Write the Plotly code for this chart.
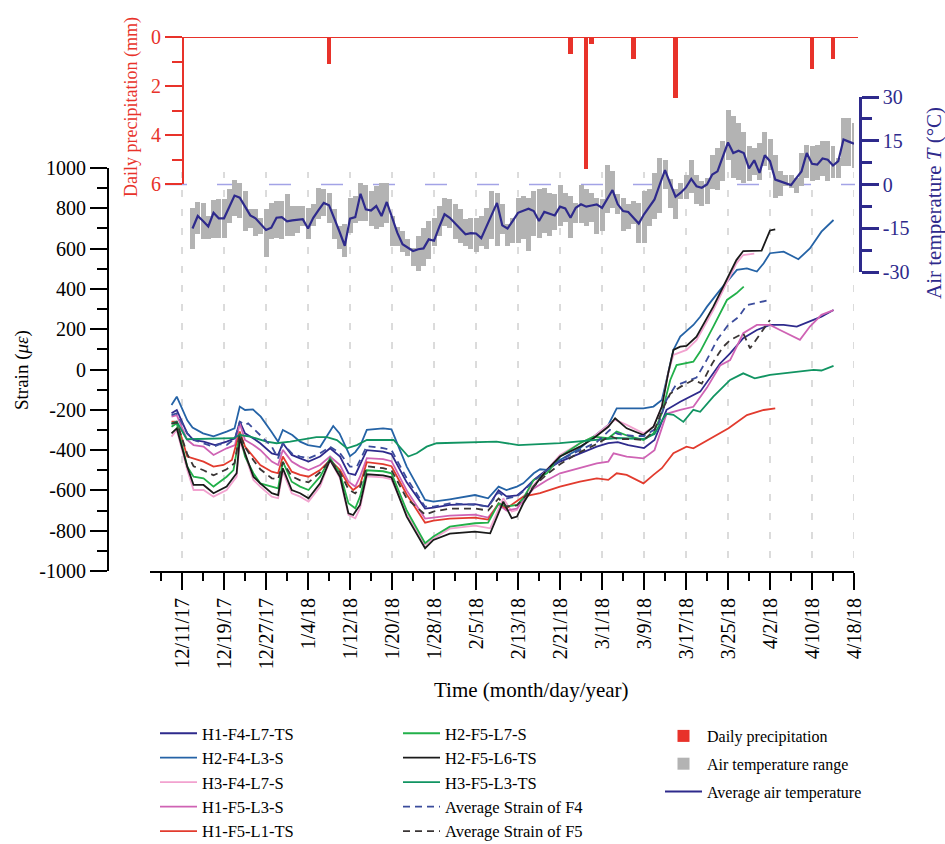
import plotly.graph_objects as go
import pandas as pd

W, H = 945, 844
BASE = pd.Timestamp('2017-12-11')
DAY_MS = 86400000


def fx(px):
    return px / W


def fy(py):
    return 1 - py / H


def dates(days):
    return [BASE + pd.Timedelta(days=float(d)) for d in days]


# ---------------- strain series (day offset from 12/11/2017, strain in micro-strain) -------------
h1_f4_l7_ts_day = [-2, -1, 1, 2.2, 4.1, 6.3, 8.5, 10.1, 11, 12, 13.6, 14.9, 17.1, 18.3, 19.2, 20.9, 22.5, 24.1, 26.3, 28.2,
                   30.1, 31.7, 33, 33.9, 35.2, 38.3, 39.9, 42.8, 46.3, 47.9, 51, 55.8, 58.3, 60.3, 61.8, 63.8, 65, 67, 69.5, 72,
                   75.8, 79, 81.2, 83, 85, 88, 90, 91.4, 92.3, 94.9, 98.7, 102.5, 104.4, 106.9, 109.5, 112, 114.6, 117.1, 119.6, 121.8,
                   124.1]
h1_f4_l7_ts = [-217, -201, -317, -350, -358, -375, -358, -342, -259, -317, -342, -366, -416, -424, -366, -424, -441, -457, -432, -391,
               -432, -515, -523, -474, -400, -408, -420, -560, -690, -685, -672, -668, -680, -600, -630, -625, -600, -548, -498, -457,
               -416, -383, -365, -360, -375, -390, -350, -260, -200, -160, -110, 30, 80, 155, 196, 221, 221, 213, 237, 262,
               295]

h2_f4_l3_s_day = [-2, -1, 1, 2, 4, 6, 8.5, 10, 11, 12, 13.5, 15, 17, 18.3, 19.2, 21, 22.5, 24, 26.3, 27.5,
                  28.8, 30, 31.4, 32, 33, 34, 35.2, 38.3, 39.9, 42.8, 46.3, 47.9, 51, 55.8, 58.3, 60.3, 61.8, 63.8, 65, 67,
                  68.2, 69.5, 72, 75.8, 78.4, 81.2, 82.8, 87.9, 89.8, 91.4, 92.3, 93.6, 94.9, 97.4, 98.7, 100, 102.5, 104.1, 105.7, 107.6,
                  109.5, 110.8, 112, 114.6, 116.5, 117.4, 119.6, 121.8, 124.1]
h2_f4_l3_s = [-176, -135, -252, -288, -317, -332, -308, -292, -184, -201, -198, -234, -308, -358, -300, -325, -358, -375, -385, -335,
              -280, -317, -391, -430, -410, -375, -300, -292, -297, -482, -647, -656, -644, -623, -639, -581, -598, -581, -565, -515,
              -495, -498, -449, -391, -333, -275, -193, -193, -184, -151, -52, 97, 163, 221, 262, 312, 395, 444, 494, 502,
              486, 527, 577, 585, 560, 547, 601, 684, 742]

h3_f4_l7_s_day = [-2, -1, 1, 2.2, 4.1, 6, 8.5, 10.4, 11, 12, 13.6, 14.9, 17.1, 18.3, 19.2, 20.9, 22.5, 24.1, 26.3, 28.2,
                  30.1, 31.7, 33, 33.9, 35.2, 38.3, 39.9, 42.8, 46.3, 47.9, 51, 55.8, 58.7, 61.2, 62.8, 63.8, 65, 67, 69.5, 72,
                  75.8, 78.4, 81.2, 82.5, 84.7, 87.9, 89.8, 91.4, 92.6, 93.6, 96.1, 98, 101.2, 104.1, 105.6, 106.9, 109]
h3_f4_l7_s = [-333, -300, -499, -598, -598, -631, -598, -532, -358, -424, -548, -581, -631, -639, -507, -614, -631, -656, -581, -449,
              -540, -722, -738, -689, -530, -535, -545, -720, -870, -840, -790, -775, -788, -639, -705, -697, -631, -573, -498, -424,
              -366, -333, -275, -250, -275, -317, -284, -184, -19, 72, 97, 146, 295, 444, 527, 568, 575]

h1_f5_l3_s_day = [-2, -1, 1, 2.2, 4.1, 6, 8.5, 10.1, 11, 12, 13.6, 14.9, 17.1, 18.3, 19.2, 20.9, 22.5, 24.1, 26.3, 28.2,
                  30.1, 31.7, 33, 33.9, 35.2, 38.3, 39.9, 42.8, 46.3, 47.9, 51, 55.8, 58.3, 60.3, 61.8, 63.8, 65, 67, 69.5, 72,
                  75.8, 79, 81.2, 82.2, 84.7, 87.9, 90, 91.4, 92.3, 94.9, 97.4, 100, 102.5, 104.4, 106.9, 109.5, 112, 113.9, 115.8, 117.7,
                  119.6, 121.8, 124.1]
h1_f5_l3_s = [-234, -226, -350, -375, -383, -424, -391, -375, -267, -350, -375, -399, -457, -474, -399, -457, -482, -499, -474, -432,
              -474, -557, -581, -532, -440, -445, -455, -600, -740, -735, -725, -720, -735, -670, -700, -690, -650, -590, -550, -515,
              -490, -466, -457, -416, -432, -441, -400, -290, -220, -200, -185, -90, 20, 47, 180, 221, 221, 196, 171, 147,
              213, 271, 295]

h1_f5_l1_ts_day = [-2, -1, 1, 2.2, 4.1, 6, 7.9, 9.5, 11, 12, 13.6, 14.9, 17.1, 18.3, 19.2, 20.9, 22.5, 24.1, 26.3, 28.2,
                   30.1, 31.7, 32.6, 33.9, 35.2, 38.3, 39.9, 42.8, 46.3, 47.9, 51, 55.8, 58.3, 60.3, 61.8, 65, 68.2, 72, 75.8, 79,
                   81.2, 82.8, 84.7, 87.9, 89.8, 91.4, 93.6, 96.1, 97.4, 101.2, 104.1, 107.6, 110.8, 113]
h1_f5_l1_ts = [-259, -259, -432, -441, -457, -482, -474, -449, -308, -383, -432, -474, -507, -515, -432, -507, -523, -532, -499, -449,
               -499, -573, -598, -573, -460, -470, -480, -620, -760, -750, -740, -735, -745, -664, -689, -631, -614, -581, -557, -540,
               -548, -515, -523, -565, -523, -490, -416, -383, -391, -333, -292, -226, -201, -193]

h2_f5_l7_s_day = [-2, -1, 1, 2.2, 4.1, 6, 8.5, 9.8, 11, 12, 13.6, 14.9, 17.1, 18.3, 19.2, 20.9, 22.5, 24.1, 26.3, 28.2,
                  30.1, 31.7, 33, 33.9, 35.2, 38.3, 39.9, 42.8, 46.3, 47.9, 51, 55.8, 58.3, 60.3, 61.8, 63.8, 65, 67, 69.5, 72,
                  75.8, 78.4, 81.2, 82.8, 85, 87.9, 89.8, 91.4, 93, 94.2, 97.4, 98.7, 101.2, 103.8, 105.6, 107]
h2_f5_l7_s = [-284, -267, -482, -532, -540, -581, -532, -499, -317, -432, -515, -565, -581, -590, -457, -557, -581, -598, -532, -441,
              -515, -664, -689, -631, -500, -505, -515, -700, -862, -829, -780, -763, -760, -664, -680, -672, -640, -548, -515, -432,
              -366, -333, -341, -308, -330, -350, -317, -217, -52, 22, 39, 89, 213, 345, 378, 411]

h2_f5_l6_ts_day = [-2, -1, 1, 2.2, 4.1, 6, 8.5, 10.4, 11, 12, 13.6, 14.9, 17.1, 18.3, 19.2, 20.9, 22.5, 24.1, 26.3, 28.2,
                   30.1, 31.7, 32.6, 33.9, 35.2, 38.3, 39.9, 42.8, 46.3, 47.9, 51, 55.8, 58.7, 61.2, 62.8, 63.8, 65, 67, 69.5, 72,
                   75.8, 78.4, 81.2, 82.5, 84.7, 87.9, 89.8, 91.4, 92.6, 93.6, 94.9, 96.1, 98, 101.2, 104.1, 105.6, 106.9, 110.4, 112, 113]
h2_f5_l6_ts = [-317, -292, -482, -573, -573, -614, -581, -515, -342, -416, -532, -565, -614, -623, -490, -598, -614, -639, -565, -449,
               -532, -714, -722, -672, -520, -525, -535, -730, -887, -846, -815, -805, -813, -656, -738, -730, -664, -581, -498, -432,
               -383, -341, -284, -242, -292, -325, -284, -184, -19, 97, 113, 117, 163, 312, 461, 543, 588, 590, 690, 695]

h3_f5_l3_ts_day = [-2, -1, 0.9, 9.8, 11, 13, 16.1, 18, 20.6, 23.7, 25.6, 27.6, 29.5, 31.4, 33.3, 35.2, 40.3, 43.1, 44.7, 46.6,
                   48.5, 59.9, 64.1, 72, 78.4, 82.8, 87.9, 90, 91.5, 92.3, 93.6, 95.5, 97.4, 98.7, 101.2, 104.4, 106.9, 109.1, 112, 120.3,
                   121.8, 124.1]
h3_f5_l3_ts = [-267, -259, -346, -341, -325, -333, -358, -366, -358, -346, -336, -336, -350, -391, -375, -350, -350, -432, -416, -383,
               -366, -358, -375, -365, -350, -340, -345, -320, -250, -220, -225, -260, -200, -210, -135, -52, -19, -44, -27, -2,
               -5, 18]

avg_f4_day = [-2, -1, 1, 2.2, 4.1, 6, 7.2, 8.5, 10.1, 11, 12, 12.6, 14.2, 17.1, 18.3, 19.2, 20.9, 22.5, 24.1, 26.3,
              28.2, 30.1, 32, 33.3, 35.2, 38.3, 39.9, 42.8, 46.3, 47.9, 51, 55.8, 58.3, 60.3, 61.8, 63.8, 65, 67, 69.5, 72,
              75.8, 79, 81.5, 83, 86, 88, 90.5, 92.3, 94, 96, 98, 100, 102, 104, 106, 107.6, 110, 112]
avg_f4 = [-226, -217, -317, -350, -366, -383, -370, -375, -342, -259, -275, -267, -308, -383, -441, -366, -416, -432, -441, -416,
          -383, -416, -482, -482, -380, -390, -400, -540, -681, -681, -664, -672, -680, -610, -640, -630, -605, -550, -500, -450,
          -400, -360, -300, -320, -330, -330, -290, -150, -80, -60, -40, 50, 150, 220, 260, 320, 335, 345]

avg_f5_day = [-2, -1, 1, 2.2, 4.1, 6, 8.5, 10, 11, 12, 13.6, 14.9, 17.1, 18.3, 19.2, 20.9, 22.5, 24.1, 26.3, 28.2,
              30.1, 31.7, 33, 33.9, 35.2, 38.3, 39.9, 42.8, 46.3, 47.9, 51, 55.8, 58.3, 60.3, 61.8, 63.8, 65, 67, 69.5, 72,
              75.8, 79, 81.5, 83, 86, 88, 90, 91.5, 93, 95, 97.4, 99, 101, 103, 104.4, 106.9, 108.2, 109.8, 112]
avg_f5 = [-270, -262, -420, -480, -500, -525, -495, -465, -320, -385, -450, -495, -540, -545, -460, -530, -550, -560, -510, -450,
          -510, -595, -615, -585, -480, -490, -500, -640, -720, -705, -690, -690, -700, -640, -680, -675, -640, -580, -520, -470,
          -410, -370, -330, -345, -345, -350, -300, -200, -120, -85, -52, -70, 30, 110, 146, 180, 105, 163, 246]

# ---------------- precipitation ----------------
precip_dates = ['2018-01-08', '2018-02-23', '2018-02-26', '2018-02-27', '2018-03-07', '2018-03-15', '2018-04-10', '2018-04-14']
precip_mm = [1.1, 0.7, 5.4, 0.3, 0.9, 2.5, 1.3, 0.9]

# ---------------- daily air temperature, 12/13/2017 .. 4/18/2018 ----------------
temp_start, temp_end = '2017-12-13', '2018-04-18'
temp_avg = [-15.1, -10.8, -12.5, -14.4, -9.7, -11.6, -11.6, -7.5, -3.8, -4.5,
            -7.5, -10.6, -11.6, -13.5, -15.6, -14.8, -11.4, -11.2, -12.6, -12.3,
            -12.1, -11.9, -15.1, -11.4, -8.8, -6.3, -7.1, -11.5, -16.2, -21.0,
            -11.7, -11.2, -3.2, -8.5, -8.9, -7.4, -10.8, -6.0, -11.5, -16.5,
            -20.5, -21.8, -22.8, -22.2, -21.9, -18.8, -19.3, -14.5, -10.2, -11.4,
            -13.2, -15.2, -17.1, -16.7, -16.8, -18.4, -14.3, -10.3, -6.3, -14.0,
            -15.1, -12.5, -9.7, -9.0, -8.3, -9.1, -12.5, -9.4, -10.0, -10.6,
            -7.6, -8.2, -11.4, -8.0, -6.8, -7.6, -7.2, -6.8, -8.0, -5.0,
            -1.9, -6.8, -9.1, -9.4, -11.4, -13.4, -10.2, -7.6, -5.1, 0.0,
            4.9, 0.3, -4.2, -2.8, -1.0, 1.9, -0.6, -1.1, 0.0, 3.4,
            4.5, 9.5, 14.4, 10.8, 11.6, 10.8, 5.5, 8.3, 4.0, 10.0,
            8.0, 1.7, 1.1, 0.5, -0.2, 2.2, 4.5, 10.8, 7.1, 6.8,
            8.9, 8.5, 6.5, 8.0, 15.4, 14.7, 14.0]
temp_max = [-8.1, -6.0, -6.2, -10.8, -5.4, -5.1, -5.1, -1.5, 1.7, 0.6,
            -2.3, -8.5, -8.5, -11.4, -8.5, -6.2, -5.7, -5.7, -3.4, -7.4,
            -7.4, -7.4, -7.9, -6.8, -1.1, -1.7, -2.8, -8.5, -14.2, -13.7,
            -4.5, -4.0, 0.6, 0.0, -2.3, -0.6, 0.6, 0.6, -10.8, -14.5,
            -15.9, -18.8, -21.6, -17.6, -14.8, -12.5, -11.4, -7.4, -4.5, -5.1,
            -6.8, -8.5, -11.9, -11.4, -11.4, -10.8, -7.9, -2.3, -2.8, -6.8,
            -13.7, -11.4, -4.5, -4.0, -4.5, -2.3, -1.7, -1.1, -2.8, -3.4,
            -0.3, -2.8, -4.0, -6.3, -0.3, -1.7, -2.8, -4.5, -5.1, 6.8,
            4.5, -3.4, -4.5, -6.8, -5.7, -6.3, -2.3, -1.7, 4.0, 9.1,
            8.5, 2.0, -1.7, 0.6, 3.4, 8.5, 3.4, 1.1, 2.3, 10.2,
            12.5, 14.8, 25.6, 23.5, 21.0, 18.0, 13.1, 12.5, 14.2, 17.9,
            15.6, 10.2, 4.5, 3.4, 3.4, 2.3, 10.8, 13.7, 13.1, 13.7,
            14.8, 14.8, 13.1, 9.1, 22.8, 22.8, 21.0]
temp_min = [-22.2, -17.1, -18.8, -18.8, -18.2, -18.2, -18.2, -13.1, -10.8, -11.4,
            -15.9, -14.8, -17.6, -17.1, -25.0, -18.8, -18.2, -18.8, -17.6, -17.6,
            -16.5, -14.2, -18.8, -14.2, -11.9, -10.8, -13.1, -18.8, -22.2, -25.0,
            -16.5, -13.1, -12.5, -12.5, -14.2, -15.4, -14.5, -13.1, -21.0, -21.0,
            -23.3, -24.5, -27.9, -29.6, -27.9, -25.6, -21.0, -17.6, -14.2, -14.8,
            -18.8, -19.9, -21.0, -22.2, -23.3, -21.0, -22.2, -18.8, -21.0, -17.0,
            -21.0, -19.9, -20.0, -18.8, -22.8, -17.6, -18.2, -16.5, -17.6, -15.7,
            -14.2, -12.8, -18.2, -13.1, -13.1, -14.2, -12.8, -17.1, -15.9, -9.7,
            -8.0, -10.2, -15.9, -15.4, -13.7, -19.9, -19.9, -14.2, -11.9, -9.7,
            -1.7, -8.0, -11.9, -5.1, -5.1, -2.8, -6.8, -7.4, -6.8, -1.7,
            -2.0, 1.1, 8.5, 2.3, 1.7, 0.6, 1.1, 3.4, 1.5, 6.3,
            5.1, -4.5, -4.0, -0.6, -1.1, -2.8, -0.6, 2.3, 1.1, 1.7,
            2.8, 1.1, 2.3, 2.3, 6.3, 6.3, 5.7]

strain_ticks = [-1000, -800, -600, -400, -200, 0, 200, 400, 600, 800, 1000]
precip_ticks = [0, 2, 4, 6]
temp_ticks = [-30, -15, 0, 15, 30]

# ---------------- styles ----------------
FONT = 'Liberation Serif'
RED = '#e8322a'
INDIGO = '#2e2a8c'

series = [
    ('H1-F4-L7-TS', h1_f4_l7_ts_day, h1_f4_l7_ts, '#2e2a8c', 'solid', 'legend'),
    ('H2-F4-L3-S', h2_f4_l3_s_day, h2_f4_l3_s, '#2563a6', 'solid', 'legend'),
    ('H3-F4-L7-S', h3_f4_l7_s_day, h3_f4_l7_s, '#f2a2cf', 'solid', 'legend'),
    ('H1-F5-L3-S', h1_f5_l3_s_day, h1_f5_l3_s, '#cf63b4', 'solid', 'legend'),
    ('H1-F5-L1-TS', h1_f5_l1_ts_day, h1_f5_l1_ts, '#e23b2e', 'solid', 'legend'),
    ('H2-F5-L7-S', h2_f5_l7_s_day, h2_f5_l7_s, '#22b04a', 'solid', 'legend2'),
    ('H2-F5-L6-TS', h2_f5_l6_ts_day, h2_f5_l6_ts, '#1a1a1a', 'solid', 'legend2'),
    ('H3-F5-L3-TS', h3_f5_l3_ts_day, h3_f5_l3_ts, '#119462', 'solid', 'legend2'),
    ('Average Strain of F4', avg_f4_day, avg_f4, '#3b4c9c', '7px,5px', 'legend2'),
    ('Average Strain of F5', avg_f5_day, avg_f5, '#3a3535', '7px,5px', 'legend2'),
]

fig = go.Figure()

for name, d, v, color, dash, lg in series:
    fig.add_trace(go.Scatter(x=dates(d), y=v, mode='lines', name=name,
                             line=dict(color=color, width=1.8, dash=dash),
                             legend=lg, xaxis='x', yaxis='y'))

fig.add_trace(go.Bar(x=pd.to_datetime(precip_dates), y=precip_mm, name='Daily precipitation',
                     marker=dict(color=RED, line=dict(width=0)), width=0.85 * DAY_MS,
                     xaxis='x', yaxis='y2', legend='legend3', legendgroup='p'))

temp_dates = pd.date_range(temp_start, temp_end, freq='D')
fig.add_trace(go.Bar(x=temp_dates, y=[a - b for a, b in zip(temp_max, temp_min)], base=temp_min,
                     name='Air temperature range', marker=dict(color='#b3b3b3', line=dict(width=0)),
                     width=0.95 * DAY_MS, xaxis='x', yaxis='y3', legend='legend3', legendgroup='r'))
fig.add_trace(go.Scatter(x=temp_dates, y=temp_avg, mode='lines', name='Average air temperature',
                         line=dict(color=INDIGO, width=2.2), xaxis='x', yaxis='y3',
                         legend='legend3', legendgroup='a'))

# dashed vertical guide lines at the major date ticks
major_dates = pd.date_range('2017-12-11', '2018-04-18', freq='8D')
shapes = []
for d in major_dates:
    shapes.append(dict(type='line', xref='x', yref='paper', x0=d, x1=d, y0=fy(558), y1=fy(172),
                       line=dict(color='#c9c9c9', width=1.3, dash='7px,12px'), layer='below'))
# 0 degC dashed line
shapes.append(dict(type='line', xref='paper', yref='y3', x0=fx(165), x1=fx(855), y0=0, y1=0,
                   line=dict(color='#a3a3e6', width=1.3, dash='22px,30px'), layer='below'))
# precipitation baseline
shapes.append(dict(type='line', xref='paper', yref='y2', x0=fx(165), x1=fx(858), y0=0, y1=0,
                   line=dict(color=RED, width=2)))

tickfont = dict(family=FONT, size=20, color='black')
legfont = dict(family=FONT, size=16, color='black')

fig.update_layout(
    template='none',
    width=W, height=H, margin=dict(l=0, r=0, t=0, b=0, autoexpand=False),
    paper_bgcolor='white', plot_bgcolor='rgba(0,0,0,0)',
    barmode='overlay', bargap=0,
    font=dict(family=FONT, size=16, color='black'),
    shapes=shapes,
    xaxis=dict(domain=[fx(150), fx(854)], type='date', anchor='y', automargin=False,
               range=[BASE - pd.Timedelta(days=6.1), BASE + pd.Timedelta(days=128)],
               showline=True, linecolor='black', linewidth=2,
               ticks='outside', ticklen=17, tickwidth=2, tickcolor='black',
               tick0='2017-12-11', dtick=8 * DAY_MS, tickformat='%-m/%-d/%y', tickangle=-90,
               tickfont=dict(family=FONT, size=20, color='black'),
               minor=dict(ticks='outside', ticklen=8, tickwidth=2, tickcolor='black',
                          tick0='2017-12-11', dtick=4 * DAY_MS),
               showgrid=False, zeroline=False),
    yaxis=dict(domain=[fy(571), fy(168)], range=[-1000, 1000], anchor='free', position=fx(108), automargin=False,
               showline=True, linecolor='black', linewidth=2,
               ticks='outside', ticklen=17, tickwidth=2, tickcolor='black',
               tickmode='array', tickvals=strain_ticks, ticktext=[str(t) for t in strain_ticks],
               tickfont=tickfont,
               minor=dict(ticks='outside', ticklen=10, tickwidth=2, tickcolor='black', tick0=0, dtick=100),
               showgrid=False, zeroline=False),
    yaxis2=dict(domain=[fy(184), fy(37)], range=[6, 0], anchor='free', position=fx(183), automargin=False,
                showline=True, linecolor=RED, linewidth=2,
                ticks='outside', ticklen=17, tickwidth=2, tickcolor=RED,
                tickmode='array', tickvals=precip_ticks, ticktext=[str(t) for t in precip_ticks],
                tickfont=dict(family=FONT, size=20, color=RED),
                minor=dict(ticks='outside', ticklen=10, tickwidth=2, tickcolor=RED, tick0=0, dtick=1),
                showgrid=False, zeroline=False),
    yaxis3=dict(domain=[fy(272), fy(97)], range=[-30, 30], anchor='free', position=fx(860), side='right',
                automargin=False,
                showline=True, linecolor=INDIGO, linewidth=2.5,
                ticks='outside', ticklen=17, tickwidth=2.5, tickcolor=INDIGO,
                tickmode='array', tickvals=temp_ticks, ticktext=[str(t) for t in temp_ticks],
                tickfont=dict(family=FONT, size=20, color=INDIGO),
                minor=dict(ticks='outside', ticklen=10, tickwidth=2.5, tickcolor=INDIGO, tick0=0, dtick=7.5),
                showgrid=False, zeroline=False),
    legend=dict(x=fx(155), y=fy(716), xanchor='left', yanchor='top', bgcolor='rgba(0,0,0,0)',
                font=dict(family=FONT, size=16.5, color='black'), itemwidth=37, traceorder='normal'),
    legend2=dict(x=fx(398), y=fy(716), xanchor='left', yanchor='top', bgcolor='rgba(0,0,0,0)',
                 font=dict(family=FONT, size=16.5, color='black'), itemwidth=37, traceorder='normal'),
    legend3=dict(x=fx(660), y=fy(719), xanchor='left', yanchor='top', bgcolor='rgba(0,0,0,0)',
                 font=legfont, itemwidth=37, traceorder='grouped', tracegroupgap=4),
    annotations=[
        dict(text='Strain (<i>με</i>)', x=fx(22), y=fy(370), xref='paper', yref='paper', showarrow=False,
             textangle=-90, font=dict(family=FONT, size=19, color='black'), xanchor='center', yanchor='middle'),
        dict(text='Daily precipitation (mm)', x=fx(131), y=fy(107), xref='paper', yref='paper', showarrow=False,
             textangle=-90, font=dict(family=FONT, size=18, color=RED), xanchor='center', yanchor='middle'),
        dict(text='Air temperature <i>T</i> (°C)', x=fx(934), y=fy(203), xref='paper', yref='paper', showarrow=False,
             textangle=-90, font=dict(family=FONT, size=21, color=INDIGO), xanchor='center', yanchor='middle'),
        dict(text='Time (month/day/year)', x=fx(531), y=fy(690), xref='paper', yref='paper', showarrow=False,
             font=dict(family=FONT, size=21, color='black'), xanchor='center', yanchor='middle'),
    ],
)

fig.write_html('out.html')
